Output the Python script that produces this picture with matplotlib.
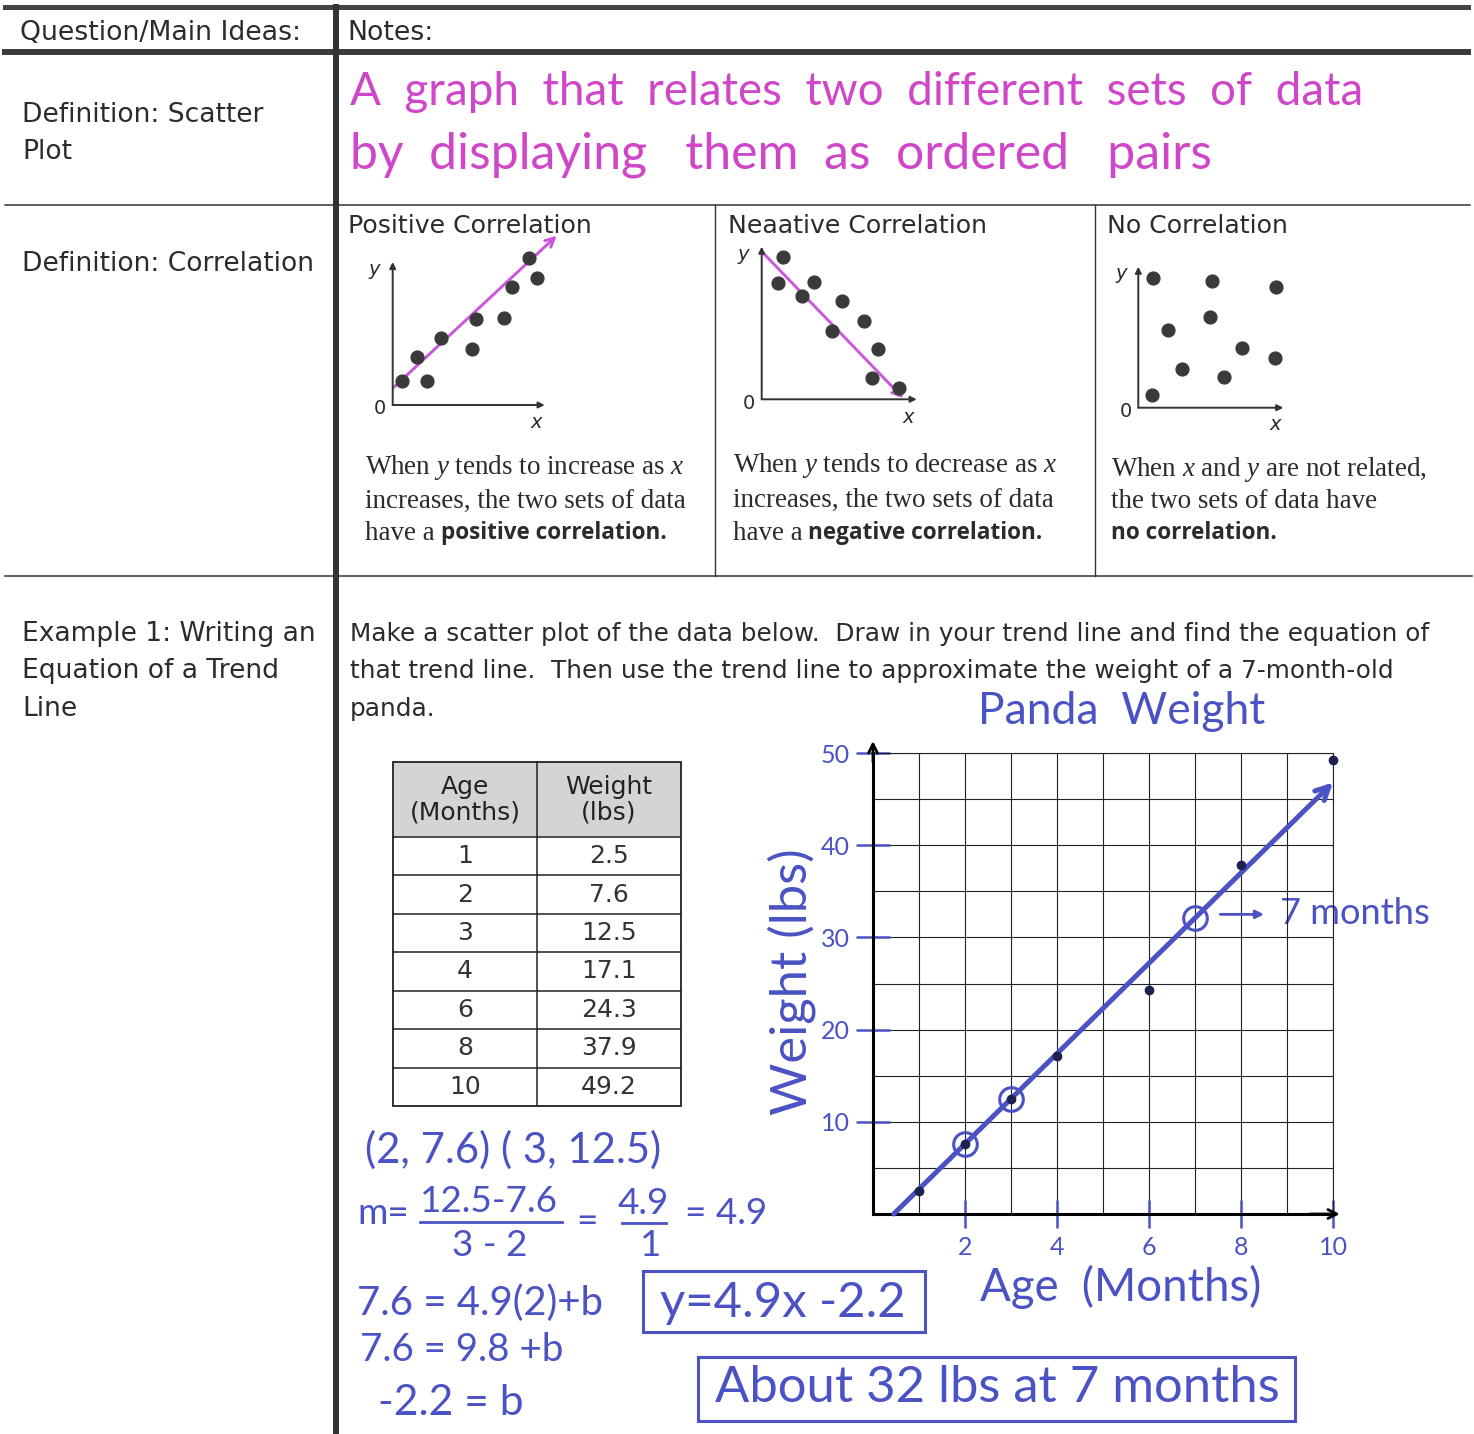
import matplotlib
matplotlib.use('Agg')
import matplotlib.pyplot as plt
from matplotlib.patches import Rectangle
import numpy as np

# panda growth table
ages = [1, 2, 3, 4, 6, 8, 10]
weights = [2.5, 7.6, 12.5, 17.1, 24.3, 37.9, 49.2]

# trend line worked out from (2, 7.6) and (3, 12.5)
slope, intercept = 4.9, -2.2
ask_month = 7

# example scatter sketches
pos_x = [0.59, 1.62, 2.28, 3.16, 5.20, 5.48, 7.34, 7.87, 8.99, 9.47]
pos_y = [1.70, 3.34, 1.70, 4.66, 3.90, 5.99, 6.06, 8.23, 10.26, 8.90]
neg_x = [1.39, 1.07, 3.37, 2.62, 5.20, 4.51, 6.61, 7.51, 7.12, 8.86]
neg_y = [9.30, 7.64, 7.70, 6.79, 6.44, 4.50, 5.13, 3.29, 1.37, 0.72]
none_x = [1.03, 5.10, 9.50, 4.94, 2.07, 7.13, 9.43, 3.03, 5.93, 0.97]
none_y = [9.22, 8.98, 8.58, 6.45, 5.50, 4.25, 3.50, 2.75, 2.21, 0.90]

x_ticks = [2, 4, 6, 8, 10]
y_ticks = [10, 20, 30, 40, 50]

BLUE = '#4a52c4'
PINK = '#cf46c8'
INK = '#2b2b2b'
HAND = 'Lato'
COMIC = 'DejaVu Sans'
SERIF = 'Liberation Serif'

plt.rcParams['mathtext.fontset'] = 'custom'
plt.rcParams['mathtext.rm'] = 'Liberation Serif'
plt.rcParams['mathtext.it'] = 'Liberation Serif:italic'

W, H = 1474, 1434
fig = plt.figure(figsize=(W / 100, H / 100), dpi=100)
R = fig.canvas.get_renderer()

page = fig.add_axes([0, 0, 1, 1])
page.set_xlim(0, W)
page.set_ylim(H, 0)
page.axis('off')


def px_axes(left, top, right, bottom):
    return fig.add_axes([left / W, 1 - bottom / H, (right - left) / W, (bottom - top) / H])


def fit(s, x0, x1, y, size=None, **kw):
    # stretch font size so the string runs from x0 to x1
    t = page.text(x0, y, s, fontsize=size or 20, ha='left', va='center', zorder=6, **kw)
    if size is None:
        w = t.get_window_extent(renderer=R).width
        t.set_fontsize(20 * (x1 - x0) / w)
    return t.get_fontsize()


# ruled note-sheet lines
page.plot([5, 1468], [7, 7], lw=3.6, color='#444')
page.plot([5, 1468], [52, 52], lw=4.3, color='#3a3a3a')
page.plot([336, 336], [7, 1434], lw=4.3, color='#333')
page.plot([5, 1470], [205, 205], lw=1.1, color='#333')
page.plot([5, 1472], [576, 576], lw=1.1, color='#333')
page.plot([715, 715], [205, 576], lw=1.0, color='#333')
page.plot([1095, 1095], [205, 576], lw=1.0, color='#333')

# left column cues
fs = fit('Question/Main Ideas:', 20, 302, 33, family=COMIC, color=INK)
fit('Notes:', 347, 0, 33, size=fs, family=COMIC, color=INK)
fs = fit('Example 1: Writing an', 22, 316, 634, family=COMIC, color=INK)
fit('Equation of a Trend', 22, 0, 671, size=fs, family=COMIC, color=INK)
fit('Line', 22, 0, 709, size=fs, family=COMIC, color=INK)
fit('Definition: Scatter', 22, 0, 115, size=fs, family=COMIC, color=INK)
fit('Plot', 22, 0, 152, size=fs, family=COMIC, color=INK)
fit('Definition: Correlation', 22, 0, 264, size=fs, family=COMIC, color=INK)

# scatter plot definition
fit('A  graph  that  relates  two  different  sets  of  data', 350, 1365, 92,
    family=HAND, color=PINK)
fit('by  displaying   them  as  ordered   pairs', 350, 1215, 155,
    family=HAND, color=PINK)

# correlation panels
fs = fit('Positive Correlation', 348, 591, 226, family=COMIC, color=INK)
fit('Neaative Correlation', 728, 0, 226, size=fs, family=COMIC, color=INK)
fit('No Correlation', 1107, 0, 226, size=fs, family=COMIC, color=INK)


def mini(ox, oy, ux, uy, xs, ys, arrow=None):
    ax = px_axes(ox - 2.2 * ux, oy - 12.5 * uy, ox + 12.5 * ux, oy + 2.2 * uy)
    ax.set_xlim(-2.2, 12.5)
    ax.set_ylim(-2.2, 12.5)
    ax.axis('off')
    axis_kw = dict(arrowstyle='-|>', lw=1.4, color='#333', mutation_scale=9, shrinkA=0, shrinkB=0)
    ax.annotate('', xy=(10, 0), xytext=(0, 0), arrowprops=axis_kw)
    ax.annotate('', xy=(0, 10), xytext=(0, 0), arrowprops=axis_kw)
    if arrow:
        ax.annotate('', xy=arrow[1], xytext=arrow[0], zorder=2,
                    arrowprops=dict(arrowstyle='->', lw=2.1, color='#cc55dd',
                                    mutation_scale=16, shrinkA=0, shrinkB=0))
    ax.scatter(xs, ys, s=85, color='#3a3a3a', zorder=3)
    ax.text(-1.2, 9.5, 'y', style='italic', fontsize=14, ha='center', va='center', color=INK)
    ax.text(-0.85, -0.25, '0', fontsize=14, ha='center', va='center', color=INK)
    ax.text(9.45, -1.2, 'x', style='italic', fontsize=14, ha='center', va='center', color=INK)


mini(392.7, 405, 15.2, 14.3, pos_x, pos_y, arrow=((0.04, 1.21), (10.79, 11.84)))
mini(761.7, 399.3, 15.5, 15.27, neg_x, neg_y, arrow=((0.17, 9.5), (9.14, 0.07)))
mini(1138.3, 407.7, 14.5, 14.1, none_x, none_y)

fs = fit('increases, the two sets of data', 365, 685, 501, family=SERIF, color=INK)
fit('When $y$ tends to increase as $x$', 365, 0, 468, size=fs, family=SERIF, color=INK)
fit('have a', 365, 0, 534, size=fs, family=SERIF, color=INK)
fit('When $y$ tends to decrease as $x$', 733, 0, 466, size=fs, family=SERIF, color=INK)
fit('increases, the two sets of data', 733, 0, 500, size=fs, family=SERIF, color=INK)
fit('have a', 733, 0, 534, size=fs, family=SERIF, color=INK)
fit('When $x$ and $y$ are not related,', 1111, 0, 470, size=fs, family=SERIF, color=INK)
fit('the two sets of data have', 1111, 0, 502, size=fs, family=SERIF, color=INK)
bold = dict(family='Open Sans', fontweight='bold', color=INK)
bs = fit('positive correlation.', 441, 667, 533, **bold)
fit('negative correlation.', 808, 0, 533, size=bs, **bold)
fit('no correlation.', 1111, 0, 533, size=bs, **bold)

# example prompt
fs = fit('Make a scatter plot of the data below.  Draw in your trend line and find the equation of',
         350, 1428, 634, family=COMIC, color=INK)
fit('that trend line.  Then use the trend line to approximate the weight of a 7-month-old',
    350, 0, 671, size=fs, family=COMIC, color=INK)
fit('panda.', 350, 0, 709, size=fs, family=COMIC, color=INK)

# data table
tx0, tx1, tsplit = 393, 681, 537
ttop, thead = 762, 837
row_h = (1106 - thead) / len(ages)
page.add_patch(Rectangle((tx0, ttop), tx1 - tx0, thead - ttop, facecolor='#d4d4d4',
                         edgecolor='none', zorder=0))
page.add_patch(Rectangle((tx0, ttop), tx1 - tx0, thead + row_h * len(ages) - ttop,
                         facecolor='none', edgecolor='#222', lw=1.3))
page.plot([tsplit, tsplit], [ttop, thead + row_h * len(ages)], color='#222', lw=1.1)
page.text((tx0 + tsplit) / 2, (ttop + thead) / 2, 'Age\n(Months)', ha='center', va='center',
          fontsize=18, family=COMIC, color='#222', linespacing=1.1)
page.text((tsplit + tx1) / 2, (ttop + thead) / 2, 'Weight\n(lbs)', ha='center', va='center',
          fontsize=18, family=COMIC, color='#222', linespacing=1.1)
for i, (a, w) in enumerate(zip(ages, weights)):
    y0 = thead + i * row_h
    page.plot([tx0, tx1], [y0, y0], color='#222', lw=1.1)
    page.text((tx0 + tsplit) / 2, y0 + row_h / 2, f'{a}', ha='center', va='center',
              fontsize=18, family=COMIC, color='#333')
    page.text((tsplit + tx1) / 2, y0 + row_h / 2, f'{w}', ha='center', va='center',
              fontsize=18, family=COMIC, color='#333')

# worked solution
hw = dict(family=HAND, color=BLUE)
fit('(2, 7.6) ( 3, 12.5)', 365, 660, 1150, **hw)
fs = fit('12.5-7.6', 420, 558, 1201, **hw)
fit('m=', 357, 0, 1213, size=fs, **hw)
page.plot([420, 562], [1222, 1222], color=BLUE, lw=2)
fit('3 - 2', 452, 0, 1245, size=fs, **hw)
fit('=', 576, 0, 1222, size=fs, **hw)
fit('4.9', 618, 0, 1204, size=fs, **hw)
page.plot([622, 666], [1223, 1223], color=BLUE, lw=2)
fit('1', 640, 0, 1245, size=fs, **hw)
fit('= 4.9', 685, 0, 1213, size=fs, **hw)
fit('7.6 = 4.9(2)+b', 357, 603, 1303, **hw)
fit('7.6 = 9.8 +b', 360, 563, 1350, **hw)
fit('-2.2 = b', 378, 523, 1403, **hw)
page.add_patch(Rectangle((643, 1271), 282, 61, facecolor='none', edgecolor=BLUE, lw=2.2))
fit(f'y={slope}x {intercept}', 660, 905, 1303, **hw)
page.add_patch(Rectangle((698, 1357), 597, 64, facecolor='none', edgecolor=BLUE, lw=2.2))
est = slope * ask_month + intercept
fit(f'About {est:.0f} lbs at {ask_month} months', 715, 1280, 1388, **hw)

# panda weight scatter plot
ax = px_axes(873, 753, 1333, 1214)
ax.patch.set_alpha(0)
ax.set_xlim(0, 10)
ax.set_ylim(0, 50)
ax.set_xticks(range(0, 11), minor=True)
ax.set_yticks(range(0, 51, 5), minor=True)
ax.set_xticks(x_ticks)
ax.set_yticks(y_ticks)
ax.grid(which='both', color='#222', lw=0.8)
ax.set_axisbelow(True)
ax.tick_params(which='minor', length=0)
ax.tick_params(which='major', direction='inout', color=BLUE, width=1.8,
               labelcolor=BLUE, labelsize=18)
ax.tick_params(axis='y', length=25, pad=4)
ax.tick_params(axis='x', length=20, pad=6)
for lab in ax.get_xticklabels() + ax.get_yticklabels():
    lab.set_family(HAND)
for side in ('left', 'bottom'):
    ax.spines[side].set_linewidth(2.2)
    ax.spines[side].set_color('black')
for side in ('top', 'right'):
    ax.spines[side].set_linewidth(0.8)
    ax.spines[side].set_color('#222')
head = dict(arrowstyle='->', color='black', lw=2, mutation_scale=16, shrinkA=0, shrinkB=0)
ax.annotate('', xy=(0, 51.3), xytext=(0, 49), arrowprops=head, annotation_clip=False)
ax.annotate('', xy=(10.15, 0), xytext=(9.5, 0), arrowprops=head, annotation_clip=False)

ax.plot(ages, weights, 'o', color='#1e2250', ms=6, zorder=4, clip_on=False)
x_start = -intercept / slope
ax.annotate('', xy=(10, slope * 10 + intercept), xytext=(x_start, 0),
            arrowprops=dict(arrowstyle='->', color=BLUE, lw=3.6, mutation_scale=24,
                            shrinkA=0, shrinkB=0), annotation_clip=False, zorder=3)
ax.plot([2, 3, ask_month], [7.6, 12.5, est], 'o', mfc='none', mec=BLUE, mew=2.2, ms=17,
        zorder=5, clip_on=False)
ax.annotate('', xy=(8.5, est + 0.4), xytext=(7.55, est + 0.4),
            arrowprops=dict(arrowstyle='-|>', color=BLUE, lw=2, mutation_scale=12,
                            shrinkA=0, shrinkB=0), annotation_clip=False)

fit(f'{ask_month} months', 1280, 1430, 913, **hw)
fit('Panda  Weight', 978, 1265, 712, **hw)
fit('Age  (Months)', 980, 1262, 1287, **hw)
t = page.text(792, 982, 'Weight (lbs)', fontsize=20, ha='center', va='center', **hw)
t.set_fontsize(20 * 267 / t.get_window_extent(renderer=R).width)
t.set_rotation(90)

fig.savefig('out.png', dpi=100, facecolor='white')
